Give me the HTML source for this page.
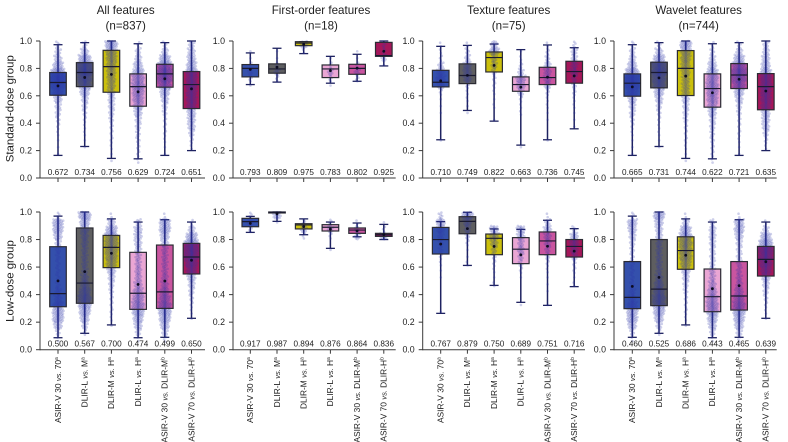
<!DOCTYPE html>
<html lang="en">
<head>
<meta charset="utf-8">
<title>Box plots of feature agreement by dose group</title>
<style>
html,body{margin:0;padding:0;background:#fff}
svg{display:block;font-family:"Liberation Sans",Arial,sans-serif;filter:blur(0.3px)}
</style>
</head>
<body>
<svg id="chart" width="788" height="442" viewBox="0 0 788 442" xmlns="http://www.w3.org/2000/svg"></svg>
<script>
// ---- categories and ticks
const categories = [
  ["ASIR-V 30", "70", "a"],
  ["DLIR-L", "M", "a"],
  ["DLIR-M", "H", "a"],
  ["DLIR-L", "H", "a"],
  ["ASIR-V 30", "DLIR-M", "b"],
  ["ASIR-V 70", "DLIR-H", "b"]
];
const yTicks = [0, 0.2, 0.4, 0.6, 0.8, 1.0];
const rowTitles = ["Standard-dose group", "Low-dose group"];
const panelTitles = ["All features", "First-order features", "Texture features", "Wavelet features"];
const panelCounts = ["(n=837)", "(n=18)", "(n=75)", "(n=744)"];

// ---- All features, standard dose
const allStdLow = [0.165, 0.23, 0.143, 0.14, 0.165, 0.2];
const allStdQ1 = [0.604, 0.667, 0.626, 0.524, 0.663, 0.507];
const allStdMed = [0.697, 0.77, 0.813, 0.667, 0.76, 0.682];
const allStdQ3 = [0.77, 0.842, 0.932, 0.76, 0.83, 0.777];
const allStdHigh = [0.973, 0.988, 1, 0.98, 0.988, 1];
const allStdMean = [0.672, 0.734, 0.756, 0.629, 0.724, 0.651];
const allStdSwarm = [
  [0,0,0,1,1,1,2,3,5,8,10,16,28,50,60,45,25,15,10,5],
  [0,0,0,0,1,1,2,2,3,5,8,12,22,35,45,65,55,35,15,6],
  [0,0,1,1,2,3,3,4,6,8,10,12,14,16,18,20,22,26,28,36],
  [0,0,2,3,4,5,6,8,10,16,22,28,32,38,34,30,20,12,8,3],
  [0,0,0,1,1,2,3,3,4,6,8,14,22,38,55,60,45,28,12,5],
  [0,0,0,0,2,4,8,14,16,18,22,26,28,32,30,32,24,18,14,10]
];
// ---- All features, low dose
const allLowLow = [0.087, 0.119, 0.18, 0.087, 0.09, 0.228];
const allLowQ1 = [0.312, 0.337, 0.596, 0.293, 0.30, 0.55];
const allLowMed = [0.407, 0.484, 0.743, 0.41, 0.42, 0.673];
const allLowQ3 = [0.748, 0.884, 0.83, 0.707, 0.76, 0.772];
const allLowHigh = [0.97, 1, 0.95, 0.927, 0.944, 0.927];
const allLowMean = [0.5, 0.567, 0.7, 0.474, 0.499, 0.65];
const allLowSwarm = [
  [0,2,6,18,30,32,24,14,10,6,5,5,5,6,8,10,18,26,28,4],
  [0,0,3,10,20,30,38,40,30,20,14,10,10,10,10,12,14,18,24,36],
  [0,0,0,1,2,3,3,4,6,8,12,18,26,34,38,42,40,30,14,2],
  [0,2,8,16,24,34,36,30,22,16,12,12,10,10,12,14,16,16,8,0],
  [0,3,10,20,30,38,36,28,20,14,12,10,10,10,10,14,20,30,28,2],
  [0,0,0,0,1,2,3,5,8,12,18,26,36,48,52,46,30,12,3,0]
];
// ---- First-order features, standard dose
const firstStdLow = [0.682, 0.70, 0.908, 0.692, 0.706, 0.818];
const firstStdQ1 = [0.738, 0.765, 0.966, 0.733, 0.757, 0.888];
const firstStdMed = [0.80, 0.796, 0.985, 0.796, 0.80, 0.893];
const firstStdQ3 = [0.828, 0.833, 0.995, 0.825, 0.83, 0.99];
const firstStdHigh = [0.913, 0.947, 0.995, 0.888, 0.903, 1];
const firstStdMean = [0.793, 0.809, 0.975, 0.783, 0.802, 0.925];
const firstStdSwarm = [
  [0,0,0,0,0,0,0,0,0,0,0,0,0,1,4,8,3,1,1,0],
  [0,0,0,0,0,0,0,0,0,0,0,0,0,0,3,9,4,1,1,0],
  [0,0,0,0,0,0,0,0,0,0,0,0,0,0,0,0,0,0,2,16],
  [0,0,0,0,0,0,0,0,0,0,0,0,0,1,4,9,3,1,0,0],
  [0,0,0,0,0,0,0,0,0,0,0,0,0,0,4,9,3,1,1,0],
  [0,0,0,0,0,0,0,0,0,0,0,0,0,0,0,0,1,8,4,5]
];
// ---- First-order features, low dose
const firstLowLow = [0.852, 0.932, 0.835, 0.736, 0.82, 0.80];
const firstLowQ1 = [0.893, 0.993, 0.877, 0.862, 0.845, 0.823];
const firstLowMed = [0.93, 0.998, 0.906, 0.889, 0.869, 0.835];
const firstLowQ3 = [0.954, 1, 0.915, 0.908, 0.884, 0.845];
const firstLowHigh = [0.968, 1, 0.95, 0.927, 0.92, 0.91];
const firstLowMean = [0.917, 0.987, 0.894, 0.876, 0.864, 0.836];
const firstLowSwarm = [
  [0,0,0,0,0,0,0,0,0,0,0,0,0,0,0,0,0,4,10,4],
  [0,0,0,0,0,0,0,0,0,0,0,0,0,0,0,0,0,0,1,17],
  [0,0,0,0,0,0,0,0,0,0,0,0,0,0,0,0,3,11,4,0],
  [0,0,0,0,0,0,0,0,0,0,0,0,0,0,1,0,3,10,4,0],
  [0,0,0,0,0,0,0,0,0,0,0,0,0,0,0,0,9,7,2,0],
  [0,0,0,0,0,0,0,0,0,0,0,0,0,0,0,0,14,3,1,0]
];
// ---- Texture features, standard dose
const texStdLow = [0.279, 0.493, 0.415, 0.24, 0.279, 0.359];
const texStdQ1 = [0.665, 0.689, 0.774, 0.633, 0.682, 0.692];
const texStdMed = [0.699, 0.748, 0.879, 0.682, 0.733, 0.777];
const texStdQ3 = [0.786, 0.833, 0.92, 0.738, 0.808, 0.852];
const texStdHigh = [0.961, 0.968, 0.978, 0.937, 0.971, 0.951];
const texStdMean = [0.71, 0.749, 0.822, 0.663, 0.736, 0.745];
const texStdSwarm = [
  [0,0,0,0,0,1,0,0,0,1,1,1,3,14,22,16,9,3,2,2],
  [0,0,0,0,0,0,0,0,0,1,1,2,2,4,16,18,16,8,5,2],
  [0,0,0,0,0,0,0,0,1,0,2,1,2,3,4,6,10,10,24,12],
  [0,0,0,0,1,0,0,0,0,2,2,3,10,18,22,10,4,2,1,0],
  [0,0,0,0,0,1,0,0,1,1,2,2,4,12,14,14,12,6,4,2],
  [0,0,0,0,0,0,0,1,1,1,2,2,4,6,8,14,12,10,10,4]
];
// ---- Texture features, low dose
const texLowLow = [0.264, 0.612, 0.467, 0.344, 0.322, 0.458];
const texLowQ1 = [0.695, 0.842, 0.69, 0.625, 0.69, 0.673];
const texLowMed = [0.80, 0.932, 0.809, 0.73, 0.79, 0.75];
const texLowQ3 = [0.888, 0.966, 0.84, 0.814, 0.855, 0.80];
const texLowHigh = [0.93, 0.998, 0.877, 0.874, 0.94, 0.879];
const texLowMean = [0.767, 0.879, 0.75, 0.689, 0.751, 0.716];
const texLowSwarm = [
  [0,0,0,0,0,1,0,0,0,0,1,1,2,3,6,6,10,16,20,6],
  [0,0,0,0,0,0,0,0,0,0,0,0,2,1,1,3,6,10,16,32],
  [0,0,0,0,0,0,0,0,0,2,1,2,3,5,8,14,22,18,0,0],
  [0,0,0,0,0,0,1,0,0,0,1,3,6,8,12,10,16,18,0,0],
  [0,0,0,0,0,0,1,0,1,1,1,2,3,6,8,12,14,16,8,2],
  [0,0,0,0,0,0,0,0,0,2,1,3,4,10,14,20,16,5,0,0]
];
// ---- Wavelet features, standard dose
const wavStdLow = [0.165, 0.23, 0.143, 0.14, 0.165, 0.2];
const wavStdQ1 = [0.597, 0.658, 0.602, 0.517, 0.653, 0.498];
const wavStdMed = [0.692, 0.77, 0.80, 0.653, 0.752, 0.667];
const wavStdQ3 = [0.76, 0.845, 0.93, 0.76, 0.835, 0.762];
const wavStdHigh = [0.973, 0.988, 1, 0.98, 0.988, 1];
const wavStdMean = [0.665, 0.731, 0.744, 0.622, 0.721, 0.635];
const wavStdSwarm = [
  [0,0,0,1,1,1,2,3,5,9,11,17,30,48,56,40,20,12,8,4],
  [0,0,0,0,1,1,2,2,3,5,8,14,22,34,42,58,50,30,14,5],
  [0,0,1,1,2,3,3,4,6,8,10,14,16,16,16,18,20,24,26,32],
  [0,0,2,3,4,5,6,8,10,16,22,28,32,36,32,28,18,10,6,3],
  [0,0,0,1,1,2,3,3,4,6,8,14,22,36,50,55,40,26,12,5],
  [0,0,0,0,2,4,8,14,16,18,22,26,28,32,30,28,20,16,12,9]
];
// ---- Wavelet features, low dose
const wavLowLow = [0.09, 0.119, 0.18, 0.087, 0.09, 0.228];
const wavLowQ1 = [0.298, 0.32, 0.584, 0.276, 0.288, 0.535];
const wavLowMed = [0.38, 0.44, 0.72, 0.385, 0.39, 0.656];
const wavLowQ3 = [0.64, 0.80, 0.82, 0.586, 0.64, 0.75];
const wavLowHigh = [0.97, 1, 0.95, 0.927, 0.944, 0.927];
const wavLowMean = [0.46, 0.525, 0.686, 0.443, 0.465, 0.639];
const wavLowSwarm = [
  [0,2,6,18,28,30,22,14,10,6,5,5,5,5,6,8,12,18,22,4],
  [0,0,3,10,20,30,36,38,28,20,14,10,10,10,10,10,12,14,18,30],
  [0,0,0,1,2,3,3,4,6,8,12,18,26,34,36,40,36,28,12,2],
  [0,2,8,16,24,32,34,28,20,14,10,10,8,8,8,10,12,12,6,0],
  [0,3,10,20,28,36,34,26,18,12,10,8,8,8,8,10,16,24,22,2],
  [0,0,0,0,1,2,3,5,8,12,18,26,36,46,50,42,26,10,2,0]
];

const boxColors = ["#3450ac", "#5e5e60", "#cbc00c", "#eaa6d4", "#c9559f", "#a5175a"];
const boxNames = ["asir-v-30-vs-70", "dlir-l-vs-m", "dlir-m-vs-h", "dlir-l-vs-h", "asir-v-30-vs-dlir-m", "asir-v-70-vs-dlir-h"];

const panelData = [
  [[allStdLow, allStdQ1, allStdMed, allStdQ3, allStdHigh, allStdMean, allStdSwarm],
   [allLowLow, allLowQ1, allLowMed, allLowQ3, allLowHigh, allLowMean, allLowSwarm]],
  [[firstStdLow, firstStdQ1, firstStdMed, firstStdQ3, firstStdHigh, firstStdMean, firstStdSwarm],
   [firstLowLow, firstLowQ1, firstLowMed, firstLowQ3, firstLowHigh, firstLowMean, firstLowSwarm]],
  [[texStdLow, texStdQ1, texStdMed, texStdQ3, texStdHigh, texStdMean, texStdSwarm],
   [texLowLow, texLowQ1, texLowMed, texLowQ3, texLowHigh, texLowMean, texLowSwarm]],
  [[wavStdLow, wavStdQ1, wavStdMed, wavStdQ3, wavStdHigh, wavStdMean, wavStdSwarm],
   [wavLowLow, wavLowQ1, wavLowMed, wavLowQ3, wavLowHigh, wavLowMean, wavLowSwarm]]
];

// ---- layout
const axisX = [40, 233, 422.7, 614];
const axisEnd = [205, 395.7, 585, 776.7];
const firstTick = [58, 250.3, 440.7, 632.3];
const tickStep = 26.7;
const titleCenter = [125.7, 321, 508.7, 698.7];
const rowTop = [41, 212];
const rowBottom = [178, 349.7];
const rowTitleCenter = [108.7, 281];
const boxW = 16.6;
const capW = 9;
const binSize = 0.05;

const svg = document.getElementById("chart");
const NS = "http://www.w3.org/2000/svg";
const axisColor = "#3a3a3a";
const textColor = "#1e1e1e";
const whiskerColor = "#1e2260";

function make(tag, parent, props) {
  const el = document.createElementNS(NS, tag);
  for (const k in props) el.setAttribute(k, props[k]);
  parent.appendChild(el);
  return el;
}
function xScale(p, i) { return firstTick[p] + i * tickStep; }
function yScale(r, v) { return rowBottom[r] - v * (rowBottom[r] - rowTop[r]); }

// Row titles
rowTitles.forEach(function (t, r) {
  const cy = rowTitleCenter[r];
  const el = make("text", svg, {transform: "translate(10.5," + cy + ") rotate(-90)", "text-anchor": "middle", "dominant-baseline": "central", "font-size": 11.4, fill: textColor});
  
  
  el.textContent = t;
});

panelData.forEach(function (rows, p) {
  const title = make("text", svg, {x: titleCenter[p], y: 14, "text-anchor": "middle", "font-size": 11.6, fill: textColor});
  
  
  title.textContent = panelTitles[p];
  const count = make("text", svg, {x: titleCenter[p], y: 29.5, "text-anchor": "middle", "font-size": 11.6, fill: textColor});
  
  
  count.textContent = panelCounts[p];

  rows.forEach(function (series, r) {
    const low = series[0], q1 = series[1], med = series[2], q3 = series[3], high = series[4], mean = series[5], swarm = series[6];
    const plot = make("g", svg, {});
    
    

    categories.forEach(function (c, i) {
      const x = xScale(p, i);
      const g = make("g", plot, {});
      
      

      const whisker = make("line", g, {x1: x, x2: x, y1: yScale(r, low[i]), y2: yScale(r, high[i]), stroke: whiskerColor, "stroke-width": 1.5});
      
      
      const capLow = make("line", g, {x1: x - capW / 2, x2: x + capW / 2, y1: yScale(r, low[i]), y2: yScale(r, low[i]), stroke: whiskerColor, "stroke-width": 1.3});
      
      
      const capHigh = make("line", g, {x1: x - capW / 2, x2: x + capW / 2, y1: yScale(r, high[i]), y2: yScale(r, high[i]), stroke: whiskerColor, "stroke-width": 1.3});
      
      

      const boxY = yScale(r, q3[i]);
      const boxH = yScale(r, q1[i]) - boxY;
      const fill = make("rect", g, {x: x - boxW / 2, y: boxY, width: boxW, height: boxH, fill: boxColors[i]});
      
      

      // swarm: point count per value bin
      const swarmGroup = make("g", g, {fill: "#3036a8", "fill-opacity": 0.24});
      
      
      swarm[i].forEach(function (n, b) {
        const halfWidth = Math.min(7.5, 1.05 * Math.sqrt(n));
        for (let k = 0; k < n; k++) {
          const v = Math.min(1, (b + (k + 0.5) / n) * binSize);
          const u = ((k + 1) * 0.618034) % 1 - 0.5;
          const off = Math.sign(u) * Math.pow(Math.abs(u) * 2, 1.5) * halfWidth;
          const dot = make("circle", swarmGroup, {cx: x + off, cy: yScale(r, v), r: 1.3});
          
          
        }
      });

      const outline = make("rect", g, {x: x - boxW / 2, y: boxY, width: boxW, height: boxH, fill: "none", stroke: "#2b2b33", "stroke-width": 1.2});
      
      
      const median = make("line", g, {x1: x - boxW / 2, x2: x + boxW / 2, y1: yScale(r, med[i]), y2: yScale(r, med[i]), stroke: "#1a1a30", "stroke-width": 1.2});
      
      
      const meanDot = make("circle", g, {cx: x, cy: yScale(r, mean[i]), r: 1.4, fill: "#0c0c20"});
      
      

      const label = make("text", g, {x: x, y: rowBottom[r] - 3, "text-anchor": "middle", "font-size": 8.2, fill: textColor});
      
      
      label.textContent = mean[i].toFixed(3);

      const tick = make("line", plot, {x1: x, x2: x, y1: rowBottom[r], y2: rowBottom[r] + 4, stroke: axisColor, "stroke-width": 1});
      
      

      if (r === 1) {
        const tx = make("text", plot, {transform: "translate(" + (x + 2.8) + "," + (rowBottom[r] + 7.5) + ") rotate(-90)", "text-anchor": "end", "font-size": 8.4, fill: textColor});
        
        
        const a = make("tspan", tx, {});
        a.textContent = c[0] + " ";
        const vs = make("tspan", tx, {"font-style": "italic", "font-size": 7.6});
        vs.textContent = "vs. ";
        const b = make("tspan", tx, {});
        b.textContent = c[1];
        const sup = make("tspan", tx, {"font-size": 5, dy: -3});
        sup.textContent = c[2];
      }
    });

    const xAxis = make("line", plot, {x1: axisX[p], x2: axisEnd[p], y1: rowBottom[r], y2: rowBottom[r], stroke: axisColor, "stroke-width": 1});
    
    
    const yAxis = make("line", plot, {x1: axisX[p], x2: axisX[p], y1: rowTop[r], y2: rowBottom[r] + 0.5, stroke: axisColor, "stroke-width": 1});
    
    

    yTicks.forEach(function (t) {
      const ty = yScale(r, t);
      const tk = make("line", plot, {x1: axisX[p] - 4, x2: axisX[p], y1: ty, y2: ty, stroke: axisColor, "stroke-width": 1});
      
      
      const lb = make("text", plot, {x: axisX[p] - 8, y: ty + 3, "text-anchor": "end", "font-size": 8.8, fill: textColor});
      
      
      lb.textContent = t.toFixed(1);
    });
  });
});
</script>
</body>
</html>
